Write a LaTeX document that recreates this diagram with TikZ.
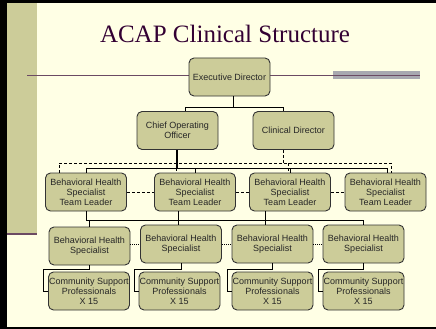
\documentclass[tikz,border=0pt]{standalone}
\usepackage{fontspec}
\setmainfont{Liberation Sans}
\newfontfamily\titlefont{Liberation Serif}
\definecolor{bg}{HTML}{FFFFE5}
\definecolor{khaki}{HTML}{CCCC99}
\definecolor{plum}{HTML}{330033}
\definecolor{rulecol}{HTML}{6B4A63}
\definecolor{barcol}{HTML}{A8A8B0}
\begin{document}
\begin{tikzpicture}[x=1pt,y=-1pt,
  box/.style={draw=black!80,fill=khaki,rounded corners=5pt,line width=0.9pt,
    minimum width=81pt,minimum height=38pt,inner sep=0pt,align=center,
    font=\fontsize{9}{10}\selectfont,text=black!85},
  link/.style={line width=1pt},
  dashlink/.style={line width=0.8pt,dash pattern=on 3pt off 2pt},
  dotlink/.style={line width=0.8pt,dash pattern=on 1pt off 1pt}]
            \useasboundingbox(0,0)rectangle(436,329);
            \fill[black](0,0)rectangle(436,329);
            \fill[bg](7,3)rectangle(436,327);
            \fill[khaki](7,3)rectangle(37,234);
            \draw[rulecol,line width=1.5pt](7,234)--(37,234);
            \node[anchor=base,text=plum,font=\titlefont\fontsize{25}{28}\selectfont](title)at(225,42){ACAP Clinical Structure};
            \fill[barcol](333,71)rectangle(420,79);
            \draw[rulecol,line width=1pt](27,75)--(420,75);
            % boxes
            \node[box](ed)at(229.5,77){Executive Director};
            \node[box](coo)at(177.5,130.5){Chief Operating\\Officer};
            \node[box](cd)at(293.5,130.5){Clinical Director};
            \node[box](tl1)at(86,192){Behavioral Health\\Specialist\\Team Leader};
            \node[box](tl2)at(195,192){Behavioral Health\\Specialist\\Team Leader};
            \node[box](tl3)at(290,192){Behavioral Health\\Specialist\\Team Leader};
            \node[box](tl4)at(385.5,192){Behavioral Health\\Specialist\\Team Leader};
            \node[box](bhs1)at(89.5,246){Behavioral Health\\Specialist};
            \node[box](bhs2)at(181,244){Behavioral Health\\Specialist};
            \node[box](bhs3)at(272.5,244){Behavioral Health\\Specialist};
            \node[box](bhs4)at(363.5,244){Behavioral Health\\Specialist};
            \node[box](csp1)at(89,291){Community Support\\Professionals\\X 15};
            \node[box](csp2)at(179.5,291){Community Support\\Professionals\\X 15};
            \node[box](csp3)at(272.5,291){Community Support\\Professionals\\X 15};
            \node[box](csp4)at(363.5,291){Community Support\\Professionals\\X 15};
            % executive director
            \coordinate(j0)at(233,107);
            \coordinate(j1)at(185,107);
            \coordinate(j2)at(283,107);
            \draw[link](ed.south-|j0)--(j0);
            \draw[link](coo.north-|j1)--(j1)--(j2)--(cd.north-|j2);
            % clinical director, dashed
            \coordinate(d0)at(283,163);
            \coordinate(d1)at(59,163);
            \coordinate(d2)at(176,163);
            \coordinate(d3)at(288,163);
            \coordinate(d4)at(391,163);
            \draw[dashlink](cd.south-|d0)--(d0);
            \draw[dashlink](tl1.north-|d1)--(d1)--(d4)--(tl4.north-|d4);
            \draw[dashlink](d2)--(tl2.north-|d2);
            \draw[dashlink](d3)--(tl3.north-|d3);
            % chief operating officer
            \coordinate(s0)at(177,168);
            \coordinate(s1)at(86,168);
            \coordinate(s4)at(387,168);
            \draw[link,line width=1.8pt](coo.south-|s0)--(s0);
            \draw[link](tl1.north-|s1)--(s1)--(s4)--(tl4.north-|s4);
            \draw[link](s0-|tl2)--(tl2.north);
            \draw[link](s0-|tl3)--(tl3.north);
            \draw[dashlink](tl1)--(tl2);
            \draw[dashlink](tl2)--(tl3);
            \draw[dashlink](tl3)--(tl4);
            % team leaders
            \coordinate(t1)at(86,220);
            \coordinate(t2)at(178,220);
            \coordinate(t3)at(265,220);
            \coordinate(t4)at(363,220);
            \draw[link](tl1.south-|t1)--(t1)--(t4)--(bhs4.north-|t4);
            \draw[link](tl2.south-|t2)--(bhs2.north-|t2);
            \draw[link](tl3.south-|t3)--(bhs3.north-|t3);
            \draw[link](t1-|bhs1)--(bhs1.north);
            \draw[dotlink](bhs1.east|-bhs2)--(bhs2);
            \draw[dotlink](bhs2)--(bhs3);
            \draw[dotlink](bhs3)--(bhs4);
            % specialists
            \coordinate(k1)at(43,269);
            \coordinate(k2)at(134,269);
            \coordinate(k3)at(227,269);
            \coordinate(k4)at(318,269);
            \draw[link](bhs1.south)|-(k1)|-(csp1.west);
            \draw[link](bhs2.south)|-(k2)|-(csp2.west);
            \draw[link](bhs3.south)|-(k3)|-(csp3.west);
            \draw[link](bhs4.south)|-(k4)|-(csp4.west);
        \end{tikzpicture}
\end{document}
